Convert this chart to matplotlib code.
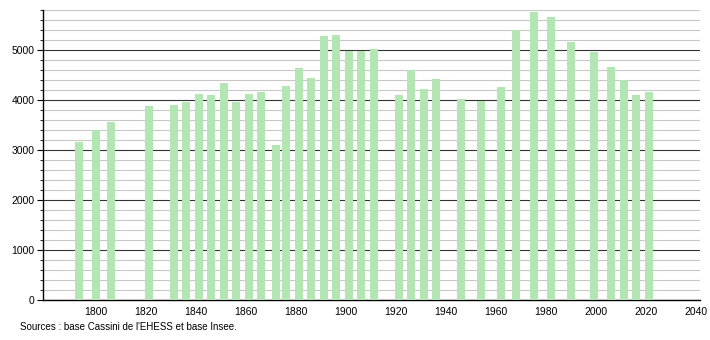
import matplotlib.pyplot as plt
from matplotlib.ticker import MultipleLocator

plt.rcParams["font.family"] = ["Liberation Sans", "DejaVu Sans"]

years = [1793, 1800, 1806, 1821, 1831, 1836, 1841, 1846, 1851, 1856, 1861, 1866,
         1872, 1876, 1881, 1886, 1891, 1896, 1901, 1906, 1911, 1921, 1926, 1931,
         1936, 1946, 1954, 1962, 1968, 1975, 1982, 1990, 1999, 2006, 2011, 2016,
         2021]
population = [3160, 3400, 3560, 3880, 3900, 3960, 4120, 4110, 4340, 3960, 4120,
              4160, 3100, 4280, 4640, 4440, 5280, 5300, 4980, 4980, 5020, 4100,
              4600, 4220, 4420, 4020, 3980, 4260, 5400, 5760, 5660, 5160, 4960,
              4660, 4400, 4100, 4160]
source_text = "Sources : base Cassini de l'EHESS et base Insee."

fig = plt.figure(figsize=(7.1, 3.4), dpi=100)
ax = fig.add_axes([43 / 710, 40 / 340, 657 / 710, 290 / 340])

ax.set_xlim(1778.8, 2041.6)
ax.set_ylim(0, 5800)

ax.yaxis.set_major_locator(MultipleLocator(1000))
ax.yaxis.set_minor_locator(MultipleLocator(200))
ax.xaxis.set_major_locator(MultipleLocator(20))
ax.set_xticks(range(1800, 2041, 20))

ax.grid(which="minor", axis="y", color="#c8c8c8", linewidth=0.8)
ax.grid(which="major", axis="y", color="#333333", linewidth=0.8)
ax.set_axisbelow(True)

ax.bar(years, population, width=3.2, color="#b3e6b3", zorder=3)

for side in ("top", "right"):
    ax.spines[side].set_visible(False)
ax.spines["left"].set_linewidth(1)
ax.spines["bottom"].set_linewidth(1)

ax.tick_params(axis="y", which="major", length=4, labelsize=7.5, pad=2)
ax.tick_params(axis="y", which="minor", length=2)
ax.tick_params(axis="x", length=0, labelsize=7.5, pad=5)

fig.text(20 / 710, 1 - 327 / 340, source_text, fontsize=7, va="center")

fig.savefig("out.png", dpi=100)
